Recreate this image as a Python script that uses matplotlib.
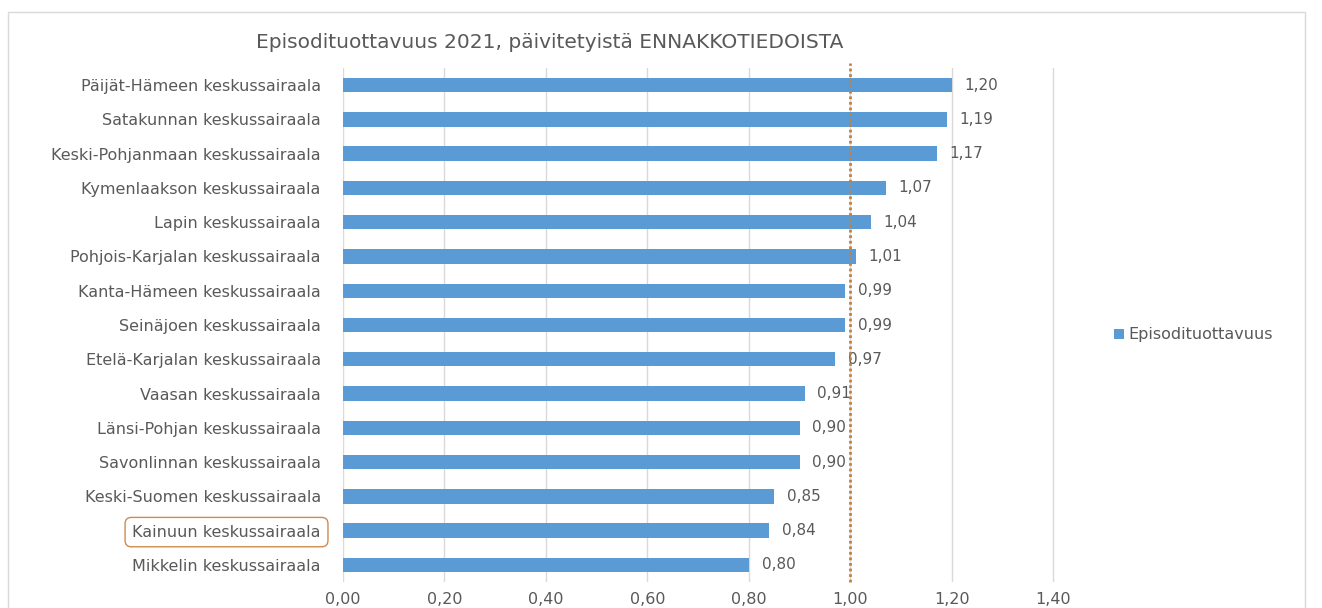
import matplotlib
matplotlib.use("Agg")
import matplotlib.pyplot as plt
from matplotlib.patches import Rectangle

categories = [
    "Päijät-Hämeen keskussairaala",
    "Satakunnan keskussairaala",
    "Keski-Pohjanmaan keskussairaala",
    "Kymenlaakson keskussairaala",
    "Lapin keskussairaala",
    "Pohjois-Karjalan keskussairaala",
    "Kanta-Hämeen keskussairaala",
    "Seinäjoen keskussairaala",
    "Etelä-Karjalan keskussairaala",
    "Vaasan keskussairaala",
    "Länsi-Pohjan keskussairaala",
    "Savonlinnan keskussairaala",
    "Keski-Suomen keskussairaala",
    "Kainuun keskussairaala",
    "Mikkelin keskussairaala",
]
values = [1.20, 1.19, 1.17, 1.07, 1.04, 1.01, 0.99, 0.99, 0.97, 0.91, 0.90, 0.90, 0.85, 0.84, 0.80]
xticks = [0.0, 0.2, 0.4, 0.6, 0.8, 1.0, 1.2, 1.4]
reference_value = 1.0
series_name = "Episodituottavuus"
title = "Episodituottavuus 2021, päivitetyistä ENNAKKOTIEDOISTA"
highlight = "Kainuun keskussairaala"

plt.rcParams['font.family'] = ['DejaVu Sans']
gray = "#595959"
bar_color = "#5B9BD5"

fig = plt.figure(figsize=(13.22, 6.08), dpi=100)
fig.patches.append(Rectangle((8/1322, -0.01), 1297/1322, 1 - 12/608 + 0.01, transform=fig.transFigure,
                             fill=False, edgecolor="#D9D9D9", linewidth=1))
ax = fig.add_axes([343/1322, 26/608, (1056-343)/1322, (540-26)/608])

y = list(range(len(categories)))
ax.barh(y, values, height=0.42, color=bar_color, zorder=2, label=series_name)
ax.set_ylim(len(categories) - 0.5, -0.5)
ax.set_xlim(0, 1.405)
ax.set_xticks(xticks)
ax.set_xticklabels([f"{t:.2f}".replace(".", ",") for t in xticks], color=gray, fontsize=11.5)
ax.set_yticks(y)
ax.set_yticklabels(categories, color=gray, fontsize=11.5)
ax.tick_params(axis="y", length=0, pad=16)
ax.tick_params(axis="x", length=0, pad=7)
ax.grid(axis="x", color="#D9D9D9", linewidth=1, zorder=0)
for s in ax.spines.values():
    s.set_visible(False)

for yi, v in zip(y, values):
    ax.text(v + 0.025, yi, f"{v:.2f}".replace(".", ","), va="center", ha="left",
            color=gray, fontsize=11)

ax.axvline(reference_value, ymin=0, ymax=1.01, color="#C5803A", linestyle=(0, (1, 1)),
           linewidth=2, zorder=3, clip_on=False)

for lbl in ax.get_yticklabels():
    if lbl.get_text() == highlight:
        lbl.set_bbox(dict(boxstyle="round,pad=0.45,rounding_size=0.4", facecolor="white",
                          edgecolor="#D08A4A", linewidth=1))

fig.text(550/1322, 1 - 42/608, title, ha="center", va="center", color=gray, fontsize=14.5)

leg = fig.legend(loc="center left", bbox_to_anchor=(1100/1322, 1 - 335/608), frameon=False,
                 fontsize=11.5, handlelength=0.6, handleheight=0.6, handletextpad=0.3)
for t in leg.get_texts():
    t.set_color(gray)

fig.savefig("out.png", dpi=100)
